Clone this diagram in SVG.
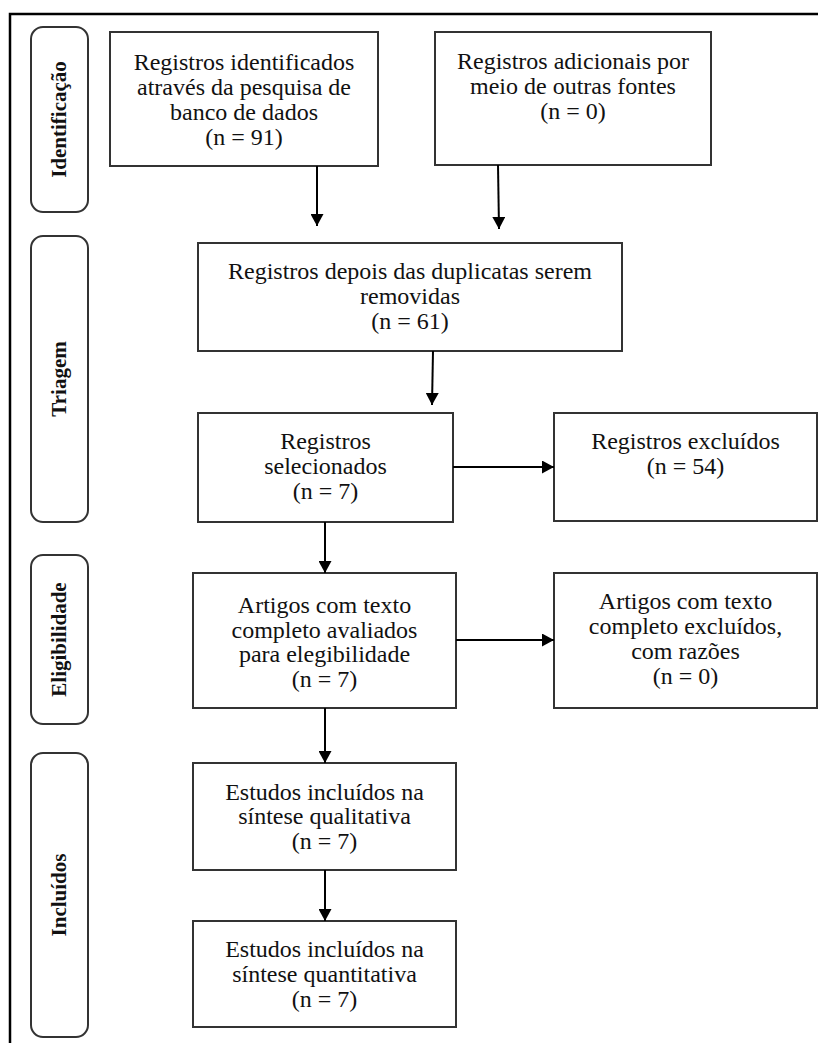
<svg xmlns="http://www.w3.org/2000/svg" width="818" height="1043" viewBox="0 0 818 1043">
<style>
.box{fill:#fff;stroke:#333;stroke-width:2}
.stage{fill:#fff;stroke:#333;stroke-width:2}
.t{font-family:"Liberation Serif","Times New Roman",serif;font-size:24px;fill:#111;text-anchor:middle}
.lb{font-family:"Liberation Serif","Times New Roman",serif;font-size:21px;font-weight:bold;fill:#111;text-anchor:middle}
.c{stroke:#000;stroke-width:2;fill:none;marker-end:url(#ah)}
</style>
<defs>
<marker id="ah" markerUnits="userSpaceOnUse" markerWidth="13" markerHeight="13" refX="12" refY="6.5" orient="auto">
<path d="M0,0 L12,6.5 L0,13 Z" fill="#000"/>
</marker>
</defs>
<rect width="818" height="1043" fill="#fff"/>
<path d="M10,1043 L10,14 L818,14" fill="none" stroke="#000" stroke-width="2.5"/>

<g id="stage-identificacao">
<rect class="stage" x="31" y="27" width="57" height="185" rx="12"/>
<text class="lb" transform="translate(66,119.5) rotate(-90)">Identificação</text>
</g>
<g id="stage-triagem">
<rect class="stage" x="31" y="236" width="57" height="286" rx="12"/>
<text class="lb" transform="translate(66,379) rotate(-90)">Triagem</text>
</g>
<g id="stage-elegibilidade">
<rect class="stage" x="31" y="555" width="57" height="169" rx="12"/>
<text class="lb" transform="translate(66,639.5) rotate(-90)">Eligibilidade</text>
</g>
<g id="stage-incluidos">
<rect class="stage" x="31" y="753" width="57" height="284" rx="12"/>
<text class="lb" transform="translate(66,895) rotate(-90)">Incluídos</text>
</g>

<g id="n-identificados">
<rect class="box" x="110" y="32" width="268" height="134"/>
<text class="t" x="244" y="70">Registros identificados</text>
<text class="t" x="244" y="95">através da pesquisa de</text>
<text class="t" x="244" y="120">banco de dados</text>
<text class="t" x="244" y="145">(n = 91)</text>
</g>
<g id="n-adicionais">
<rect class="box" x="435" y="32" width="276" height="133"/>
<text class="t" x="573" y="69">Registros adicionais por</text>
<text class="t" x="573" y="94">meio de outras fontes</text>
<text class="t" x="573" y="119">(n = 0)</text>
</g>
<g id="n-duplicatas">
<rect class="box" x="198" y="243" width="424" height="108"/>
<text class="t" x="410" y="279">Registros depois das duplicatas serem</text>
<text class="t" x="410" y="304">removidas</text>
<text class="t" x="410" y="329">(n = 61)</text>
</g>
<g id="n-selecionados">
<rect class="box" x="198" y="413" width="255" height="109"/>
<text class="t" x="325.5" y="449">Registros</text>
<text class="t" x="325.5" y="474">selecionados</text>
<text class="t" x="325.5" y="499">(n = 7)</text>
</g>
<g id="n-excluidos">
<rect class="box" x="554" y="413" width="263" height="108"/>
<text class="t" x="685.5" y="449">Registros excluídos</text>
<text class="t" x="685.5" y="474">(n = 54)</text>
</g>
<g id="n-avaliados">
<rect class="box" x="193" y="573" width="263" height="135"/>
<text class="t" x="324.5" y="613">Artigos com texto</text>
<text class="t" x="324.5" y="637.5">completo avaliados</text>
<text class="t" x="324.5" y="662">para elegibilidade</text>
<text class="t" x="324.5" y="686.5">(n = 7)</text>
</g>
<g id="n-texto-excluidos">
<rect class="box" x="554" y="573" width="263" height="135"/>
<text class="t" x="685.5" y="609">Artigos com texto</text>
<text class="t" x="685.5" y="634">completo excluídos,</text>
<text class="t" x="685.5" y="659">com razões</text>
<text class="t" x="685.5" y="684">(n = 0)</text>
</g>
<g id="n-qualitativa">
<rect class="box" x="193" y="763" width="263" height="107"/>
<text class="t" x="324.5" y="800">Estudos incluídos na</text>
<text class="t" x="324.5" y="824">síntese qualitativa</text>
<text class="t" x="324.5" y="849">(n = 7)</text>
</g>
<g id="n-quantitativa">
<rect class="box" x="193" y="921" width="263" height="106"/>
<text class="t" x="324.5" y="957">Estudos incluídos na</text>
<text class="t" x="324.5" y="982">síntese quantitativa</text>
<text class="t" x="324.5" y="1007">(n = 7)</text>
</g>

<g id="connectors">
<line class="c" x1="317" y1="166" x2="317" y2="226"/>
<line class="c" x1="498" y1="165" x2="499" y2="229"/>
<line class="c" x1="433" y1="351" x2="432" y2="405"/>
<line class="c" x1="453" y1="467" x2="554" y2="467"/>
<line class="c" x1="325" y1="522" x2="325" y2="573"/>
<line class="c" x1="456" y1="640" x2="554" y2="640"/>
<line class="c" x1="325" y1="708" x2="325" y2="763"/>
<line class="c" x1="325" y1="870" x2="325" y2="921"/>
</g>
</svg>
